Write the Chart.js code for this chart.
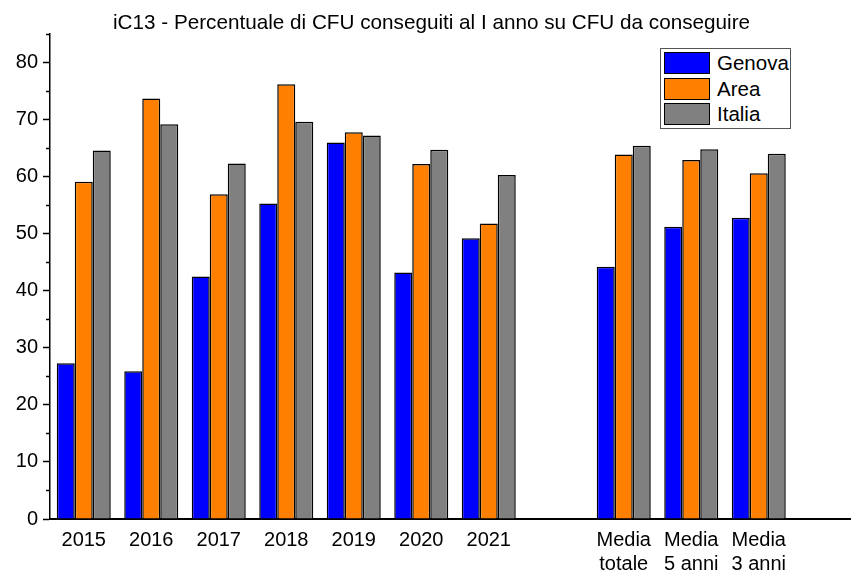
<!DOCTYPE html>
<html>
<head>
<meta charset="utf-8">
<script src="https://cdn.jsdelivr.net/npm/chart.js@4/dist/chart.umd.min.js"></script>
<style>
  html, body { margin:0; padding:0; background:#fff; overflow:hidden; }
  #wrap { position:relative; width:860px; height:576px; }
  #legend { position:absolute; left:660px; top:48px; width:129px; height:79px; border:1px solid #555; background:#fff;
            font-family:"Liberation Sans", Arial, sans-serif; font-size:20.5px; color:#000; }
  .item { position:absolute; left:3px; height:22px; }
  .sw { position:absolute; left:0; top:0; width:44px; height:20px; border:1.5px solid #000; }
  .lbl { position:absolute; left:53px; top:-1px; line-height:23px; white-space:nowrap; }
</style>
</head>
<body>
<div id="wrap">
  <canvas id="c" width="860" height="576"></canvas>
  <div id="legend"></div>
</div>
<script>
const categories = ['2015','2016','2017','2018','2019','2020','2021','',['Media','totale'],['Media','5 anni'],['Media','3 anni'],''];
const genova = [27.3, 25.9, 42.5, 55.3, 66.0, 43.2, 49.2, null, 44.2, 51.2, 52.8, null];
const area   = [59.1, 73.7, 56.9, 76.2, 67.8, 62.2, 51.8, null, 63.9, 62.9, 60.6, null];
const italia = [64.6, 69.2, 62.3, 69.6, 67.2, 64.7, 60.3, null, 65.4, 64.8, 64.0, null];
const seriesNames = ['Genova','Area','Italia'];
const seriesColors = ['#0000FF','#FF8000','#808080'];
const titleText = 'iC13 - Percentuale di CFU conseguiti al I anno su CFU da conseguire';
const yMin = 0, yMax = 85, yStep = 5;

const FONT = '"Liberation Sans", Arial, sans-serif';

// y-axis minor ticks (every 5, unlabeled)
const minorTicks = {
  id: 'minorTicks',
  afterDraw(chart) {
    const y = chart.scales.y;
    const ctx = chart.ctx;
    ctx.save();
    ctx.strokeStyle = '#000';
    ctx.lineWidth = 1.5;
    for (let v = yMin; v <= yMax; v += yStep) {
      if (v % 10 === 0) continue;
      const py = Math.round(y.getPixelForValue(v)) + 0.5;
      ctx.beginPath();
      ctx.moveTo(y.right - 4, py);
      ctx.lineTo(y.right, py);
      ctx.stroke();
    }
    ctx.restore();
  }
};

// title drawn as real canvas text
const plotTitle = {
  id: 'plotTitle',
  afterDraw(chart) {
    const ctx = chart.ctx;
    ctx.save();
    ctx.font = '20.7px ' + FONT;
    ctx.fillStyle = '#000';
    ctx.textBaseline = 'alphabetic';
    ctx.textAlign = 'center';
    ctx.fillText(titleText, 431.5, 28.5);
    ctx.restore();
  }
};

const datasets = [genova, area, italia].map((d, i) => ({
  label: seriesNames[i],
  data: d,
  backgroundColor: seriesColors[i],
  borderColor: '#000',
  borderWidth: 1.5,
  categoryPercentage: 0.8,
  barPercentage: 1.0
}));

new Chart(document.getElementById('c'), {
  type: 'bar',
  data: { labels: categories, datasets },
  options: {
    responsive: false,
    animation: false,
    devicePixelRatio: 1,
    layout: { padding: { left: 0, right: 0, top: 34, bottom: 0 } },
    plugins: {
      legend: { display: false },
      tooltip: { enabled: false },
      title: { display: false }
    },
    scales: {
      x: {
        grid: { display: false, drawTicks: false },
        border: { display: true, color: '#000', width: 2 },
        ticks: {
          color: '#000', font: { family: FONT, size: 20, lineHeight: 1.2 },
          maxRotation: 0, autoSkip: false, padding: 9
        },
        afterFit(s) { s.height = 57; }
      },
      y: {
        min: yMin, max: yMax,
        grid: {
          drawOnChartArea: false, drawTicks: true, tickLength: 7,
          tickWidth: 1.5,
          tickColor: (c) => (c.tick && c.tick.value % 10 === 0) ? '#000' : 'rgba(0,0,0,0)'
        },
        border: { display: true, color: '#000', width: 1.5 },
        ticks: {
          stepSize: yStep, color: '#000', padding: 5,
          font: { family: FONT, size: 20 },
          callback: (v) => (v % 10 === 0 ? String(v) : '')
        },
        afterFit(s) { s.width = 50; }
      }
    }
  },
  plugins: [minorTicks, plotTitle]
});

const leg = document.getElementById('legend');
seriesNames.forEach((n, i) => {
  const it = document.createElement('div');
  it.className = 'item';
  it.style.top = (3 + i * 25.5) + 'px';
  it.innerHTML = '<div class="sw" style="background:' + seriesColors[i] + '"></div><div class="lbl">' + n + '</div>';
  leg.appendChild(it);
});
</script>
</body>
</html>
